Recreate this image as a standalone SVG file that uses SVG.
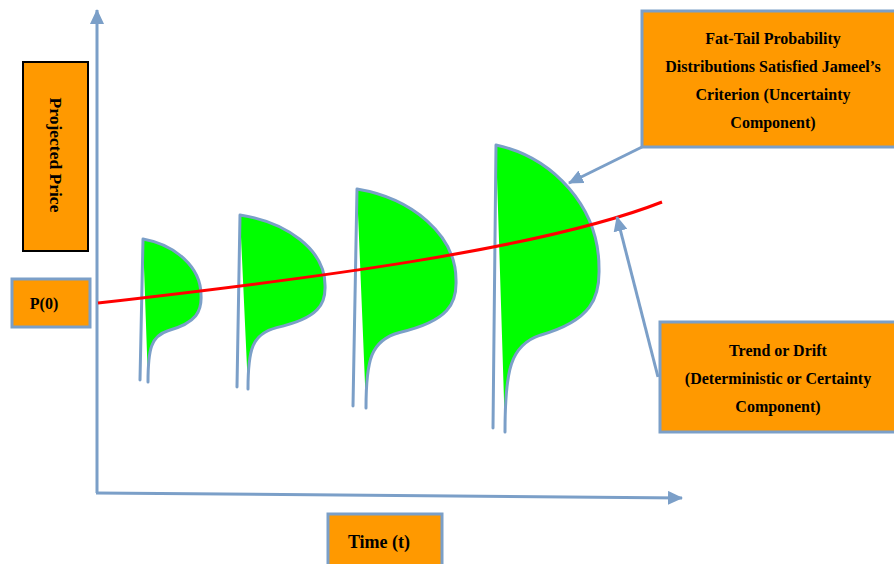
<svg xmlns="http://www.w3.org/2000/svg" width="894" height="564" viewBox="0 0 894 564">
  <style>
    .box { fill: #FF9900; stroke: #7B9FC8; stroke-width: 3; }
    .box-dark { fill: #FF9900; stroke: #000000; stroke-width: 2; }
    .label { font-family: "Liberation Serif", "Times New Roman", serif; font-weight: bold; font-size: 16px; fill: #000000; text-anchor: middle; }
    .axis { fill: none; stroke: #7B9FC8; stroke-width: 3; }
    .pointer { fill: none; stroke: #7B9FC8; stroke-width: 3; }
    .dist-fill { fill: #00FF00; stroke: none; }
    .dist-edge { fill: none; stroke: #7B9FC8; stroke-width: 3; stroke-linecap: round; stroke-linejoin: round; }
    .trend { fill: none; stroke: #FF0000; stroke-width: 3; }
  </style>
  <defs>
    <marker id="arrow" markerUnits="userSpaceOnUse" markerWidth="16" markerHeight="14" refX="14" refY="7" orient="auto">
      <path d="M0,0 L15,7 L0,14 Z" fill="#7B9FC8"/>
    </marker>
  </defs>

  <rect width="894" height="564" fill="#FFFFFF"/>

  <!-- axes -->
  <g id="axes">
    <path class="axis" d="M97,493 L97,10" marker-end="url(#arrow)"/>
    <path class="axis" d="M96,493 L682,498" marker-end="url(#arrow)"/>
  </g>

  <!-- fat-tailed distributions along the time axis -->
  <g id="dist-1">
    <path class="dist-fill" d="M143,239 C174.9,244.6 201,267 201,295 C202,310.7 196.9,322.8 168,330.7 C151.1,335.9 148,348.9 148,382 Z"/>
    <path class="dist-edge" d="M140,380 L143,239 C174.9,244.6 201,267 201,295 C202,310.7 196.9,322.8 168,330.7 C151.1,335.9 148,348.9 148,382"/>
  </g>
  <g id="dist-2">
    <path class="dist-fill" d="M240,215 C286.8,222 325,250 325,285 C326,303.7 319,318.3 276.6,327.6 C251.9,333.9 248,349.5 248,389 Z"/>
    <path class="dist-edge" d="M237,387 L240,215 C286.8,222 325,250 325,285 C326,303.7 319,318.3 276.6,327.6 C251.9,333.9 248,349.5 248,389"/>
  </g>
  <g id="dist-3">
    <path class="dist-fill" d="M357,189 C411.5,198.1 456,234.5 456,280 C457,303 449,321 399.6,332.5 C370.9,340.2 366,359.4 366,408 Z"/>
    <path class="dist-edge" d="M353,406 L357,189 C411.5,198.1 456,234.5 456,280 C457,303 449,321 399.6,332.5 C370.9,340.2 366,359.4 366,408"/>
  </g>
  <g id="dist-4">
    <path class="dist-fill" d="M496,145 C552.7,157.3 599,206.5 599,268 C600,297.5 591.8,320.5 540.3,335.2 C510.4,345.1 505,369.7 505,432 Z"/>
    <path class="dist-edge" d="M493,428 L496,145 C552.7,157.3 599,206.5 599,268 C600,297.5 591.8,320.5 540.3,335.2 C510.4,345.1 505,369.7 505,432"/>
  </g>

  <!-- deterministic trend -->
  <g id="trend-line">
    <path class="trend" d="M98,303 C300,280 540,250 662,202"/>
  </g>

  <!-- label boxes -->
  <g id="projected-price">
    <rect class="box-dark" x="23" y="62" width="65" height="189"/>
    <text class="label" style="font-size:17.5px" transform="translate(55,155) rotate(90)" x="0" y="5.5">Projected Price</text>
  </g>
  <g id="p0">
    <rect class="box" x="12" y="279" width="78" height="48"/>
    <text class="label" x="44" y="309">P(0)</text>
  </g>
  <g id="fat-tail">
    <rect class="box" x="642" y="11" width="256" height="136"/>
    <text class="label" x="773" y="43.5">Fat-Tail Probability</text>
    <text class="label" x="773" y="71.5">Distributions  Satisfied Jameel’s</text>
    <text class="label" x="773" y="99.5">Criterion (Uncertainty</text>
    <text class="label" x="773" y="127.5">Component)</text>
  </g>
  <g id="trend-box">
    <rect class="box" x="660" y="322" width="238" height="110"/>
    <text class="label" x="778" y="355.5">Trend or Drift</text>
    <text class="label" x="778" y="383.5">(Deterministic or Certainty</text>
    <text class="label" x="778" y="411.5">Component)</text>
  </g>
  <g id="time">
    <rect class="box" x="328" y="514" width="114" height="56"/>
    <text class="label" style="font-size:18px" x="379" y="548">Time (t)</text>
  </g>

  <!-- pointers from the labels -->
  <g id="connectors">
    <path class="pointer" d="M642,147 L569,183" marker-end="url(#arrow)"/>
    <path class="pointer" d="M658,377 L617,217" marker-end="url(#arrow)"/>
  </g>
</svg>
